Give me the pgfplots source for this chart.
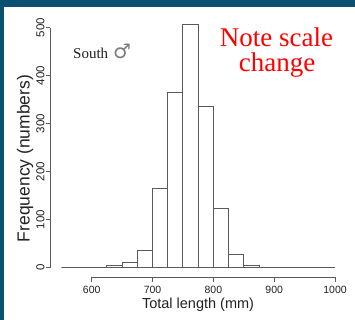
\documentclass[border=0pt]{standalone}
\usepackage{pgfplots}
\pgfplotsset{compat=1.18}
\usepackage{fontspec}
\setmainfont{Liberation Serif}
\newfontfamily\arial{Liberation Sans}
\newfontfamily\dejavu{DejaVu Sans}
\definecolor{bg}{HTML}{0B5070}
\definecolor{ln}{HTML}{5A5A5A}
\definecolor{tx}{HTML}{222222}
\begin{document}
\begin{tikzpicture}[x=1pt,y=1pt]
\path[use as bounding box] (0,0) rectangle (355,320);
\fill[white] (0,0) rectangle (355,320);
\fill[bg] (0,313) rectangle (355,320);
\fill[bg] (0,0) rectangle (3.5,320);

% bars
\begin{axis}[scale only axis, width=273.7pt, height=240pt,
  at={(61.3pt,52.3pt)}, anchor=south west,
  xmin=550, xmax=1000, ymin=0, ymax=500,
  axis x line=none, axis y line=none, xtick=\empty, ytick=\empty, clip=false]
\addplot[ybar interval, draw=ln, fill=white, line width=0.9pt] coordinates {
(550,0) (575,1) (600,0) (625,5) (650,10) (675,36) (700,165) (725,365)
(750,507) (775,335) (800,124) (825,28) (850,4) (875,1) (900,0) (925,0)
(950,0) (975,0) (1000,0)};
\end{axis}

% x axis
\begin{axis}[scale only axis, width=243.3pt, height=10pt,
  at={(91.7pt,42.7pt)}, anchor=south west,
  xmin=600, xmax=1000, ymin=0, ymax=1,
  axis x line=bottom, axis y line=none, ytick=\empty,
  xtick={600,700,800,900,1000}, xtick align=outside, major tick length=4.5pt,
  axis line style={ln, line width=0.9pt, -}, tick style={ln, line width=0.9pt},
  /pgf/number format/1000 sep={}, /pgf/number format/assume math mode=true,
  ticklabel style={font=\arial\fontsize{10.5}{12}\selectfont, text=tx},
  xticklabel style={yshift=-0.5pt},
  xlabel={Total length (mm)},
  xlabel style={font=\arial\fontsize{14.5}{16}\selectfont, text=tx,
    at={(axis description cs:0.437,0)}, anchor=center, yshift=-27.7pt}]
\end{axis}

% y axis
\begin{axis}[scale only axis, width=10pt, height=240pt,
  at={(50pt,52.3pt)}, anchor=south west,
  xmin=0, xmax=1, ymin=0, ymax=500,
  axis y line=left, axis x line=none, xtick=\empty,
  ytick={0,100,200,300,400,500}, ytick align=outside, major tick length=4pt,
  axis line style={ln, line width=0.9pt, -}, tick style={ln, line width=0.9pt},
  /pgf/number format/assume math mode=true,
  ticklabel style={font=\arial\fontsize{11.5}{12}\selectfont, text=tx},
  yticklabel style={rotate=90, anchor=south, yshift=-2pt},
  ylabel={Frequency (numbers)},
  ylabel style={font=\arial\fontsize{17.5}{18}\selectfont, text=tx,
    at={(axis description cs:-2.5,0.455)}, anchor=center}]
\end{axis}

\node[anchor=base west, font=\fontsize{15}{15}\selectfont, text=tx, inner sep=0pt] at (73,261) {South};
\node[anchor=base west, font=\dejavu\fontsize{20}{20}\selectfont, text=ln!80, inner sep=0pt] at (113,261) {♂};
\node[anchor=base, font=\fontsize{27}{27}\selectfont, text=red, inner sep=0pt] at (276.5,273) {Note scale};
\node[anchor=base, font=\fontsize{27}{27}\selectfont, text=red, inner sep=0pt] at (277,248) {change};
\end{tikzpicture}
\end{document}
